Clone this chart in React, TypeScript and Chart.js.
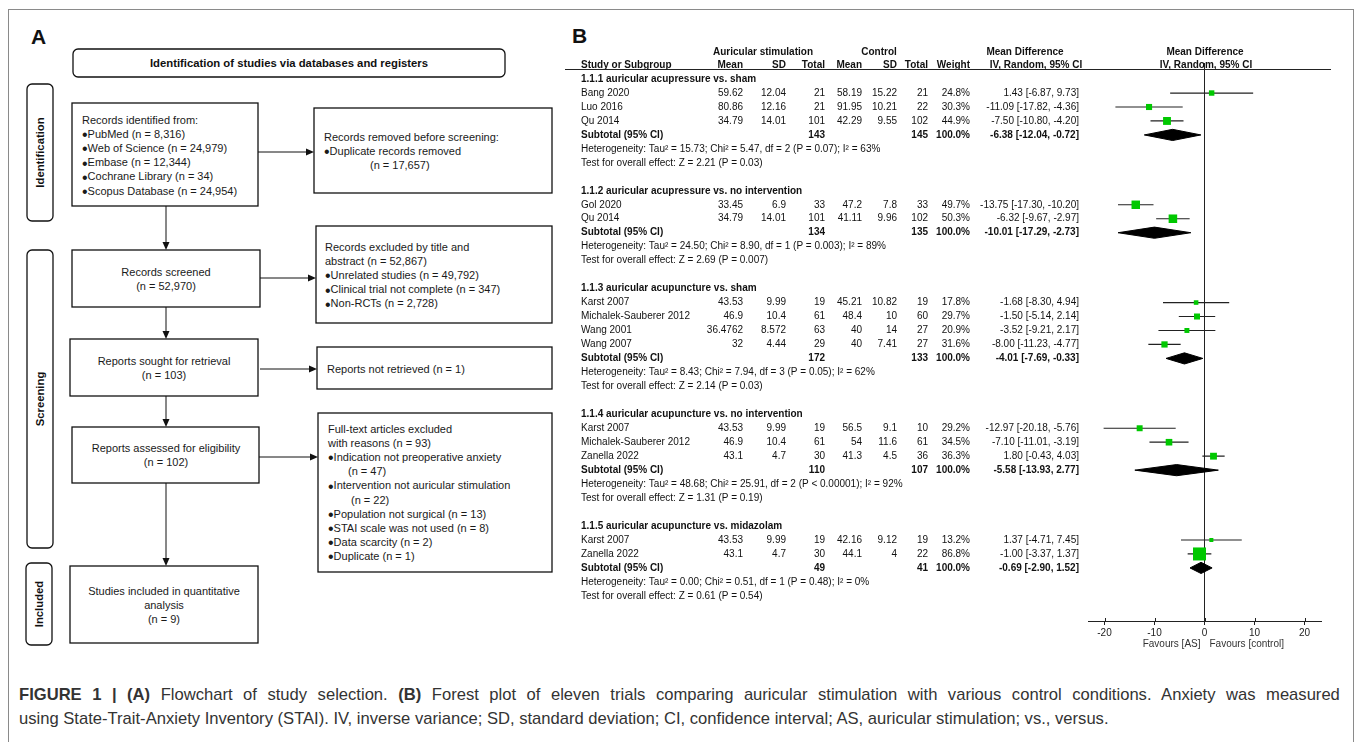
import React, { useEffect, useRef } from "react";
import { Chart, registerables } from "chart.js";

Chart.register(...registerables);

const FONT = '"Liberation Sans", Arial, Helvetica, sans-serif';

// ---------- Forest plot data ----------
const subgroupTitles = [
  "1.1.1 auricular acupressure vs. sham",
  "1.1.2 auricular acupressure vs. no intervention",
  "1.1.3 auricular acupuncture vs. sham",
  "1.1.4 auricular acupuncture vs. no intervention",
  "1.1.5 auricular acupuncture vs. midazolam",
];
const studyNames = [
  "Bang 2020", "Luo 2016", "Qu 2014",
  "Gol 2020", "Qu 2014",
  "Karst 2007", "Michalek-Sauberer 2012", "Wang 2001", "Wang 2007",
  "Karst 2007", "Michalek-Sauberer 2012", "Zanella 2022",
  "Karst 2007", "Zanella 2022",
];
const studyGroup = [0, 0, 0, 1, 1, 2, 2, 2, 2, 3, 3, 3, 4, 4];
const asMean = [59.62, 80.86, 34.79, 33.45, 34.79, 43.53, 46.9, 36.4762, 32, 43.53, 46.9, 43.1, 43.53, 43.1];
const asSD = [12.04, 12.16, 14.01, 6.9, 14.01, 9.99, 10.4, 8.572, 4.44, 9.99, 10.4, 4.7, 9.99, 4.7];
const asTotal = [21, 21, 101, 33, 101, 19, 61, 63, 29, 19, 61, 30, 19, 30];
const ctlMean = [58.19, 91.95, 42.29, 47.2, 41.11, 45.21, 48.4, 40, 40, 56.5, 54, 41.3, 42.16, 44.1];
const ctlSD = [15.22, 10.21, 9.55, 7.8, 9.96, 10.82, 10, 14, 7.41, 9.1, 11.6, 4.5, 9.12, 4];
const ctlTotal = [21, 22, 102, 33, 102, 19, 60, 27, 27, 10, 61, 36, 19, 22];
const weights = [24.8, 30.3, 44.9, 49.7, 50.3, 17.8, 29.7, 20.9, 31.6, 29.2, 34.5, 36.3, 13.2, 86.8];
const meanDiff = [1.43, -11.09, -7.5, -13.75, -6.32, -1.68, -1.5, -3.52, -8.0, -12.97, -7.1, 1.8, 1.37, -1.0];
const ciLow = [-6.87, -17.82, -10.8, -17.3, -9.67, -8.3, -5.14, -9.21, -11.23, -20.18, -11.01, -0.43, -4.71, -3.37];
const ciHigh = [9.73, -4.36, -4.2, -10.2, -2.97, 4.94, 2.14, 2.17, -4.77, -5.76, -3.19, 4.03, 7.45, 1.37];

const subMeanDiff = [-6.38, -10.01, -4.01, -5.58, -0.69];
const subLow = [-12.04, -17.29, -7.69, -13.93, -2.9];
const subHigh = [-0.72, -2.73, -0.33, 2.77, 1.52];
const subAsTotal = [143, 134, 172, 110, 49];
const subCtlTotal = [145, 135, 133, 107, 41];
const heterogeneity = [
  "Heterogeneity: Tau² = 15.73; Chi² = 5.47, df = 2 (P = 0.07); I² = 63%",
  "Heterogeneity: Tau² = 24.50; Chi² = 8.90, df = 1 (P = 0.003); I² = 89%",
  "Heterogeneity: Tau² = 8.43; Chi² = 7.94, df = 3 (P = 0.05); I² = 62%",
  "Heterogeneity: Tau² = 48.68; Chi² = 25.91, df = 2 (P < 0.00001); I² = 92%",
  "Heterogeneity: Tau² = 0.00; Chi² = 0.51, df = 1 (P = 0.48); I² = 0%",
];
const overallEffect = [
  "Test for overall effect: Z = 2.21 (P = 0.03)",
  "Test for overall effect: Z = 2.69 (P = 0.007)",
  "Test for overall effect: Z = 2.14 (P = 0.03)",
  "Test for overall effect: Z = 1.31 (P = 0.19)",
  "Test for overall effect: Z = 0.61 (P = 0.54)",
];
const xTicks = [-20, -10, 0, 10, 20];
const xMin = -23.3;
const xMax = 23.3;

// ---------- Flowchart content ----------
type FLine = { t: string; x?: number };
type FBox = { x: number; y: number; w: number; h: number; center?: boolean; tx: number; ty: number; lines: FLine[] };
const flowBoxes: FBox[] = [
  { x: 72, y: 103, w: 186, h: 103, tx: 82, ty: 120, lines: [
    { t: "Records identified from:" }, { t: "•PubMed (n = 8,316)" }, { t: "•Web of Science (n = 24,979)" },
    { t: "•Embase (n = 12,344)" }, { t: "•Cochrane Library (n = 34)" }, { t: "•Scopus Database (n = 24,954)" } ] },
  { x: 314, y: 108, w: 238, h: 85, tx: 324, ty: 137, lines: [
    { t: "Records removed before screening:" }, { t: "•Duplicate records removed" }, { t: "(n = 17,657)", x: 370 } ] },
  { x: 72, y: 250, w: 188, h: 57, center: true, tx: 166, ty: 272, lines: [ { t: "Records screened" }, { t: "(n = 52,970)" } ] },
  { x: 316, y: 226, w: 236, h: 97, tx: 325, ty: 247, lines: [
    { t: "Records excluded by title and" }, { t: "abstract (n = 52,867)" }, { t: "•Unrelated studies (n = 49,792)" },
    { t: "•Clinical trial not complete (n = 347)" }, { t: "•Non-RCTs (n = 2,728)" } ] },
  { x: 70, y: 339, w: 188, h: 57, center: true, tx: 164, ty: 361, lines: [ { t: "Reports sought for retrieval" }, { t: "(n = 103)" } ] },
  { x: 317, y: 347, w: 235, h: 42, tx: 327, ty: 369, lines: [ { t: "Reports not retrieved (n = 1)" } ] },
  { x: 72, y: 427, w: 187, h: 56, center: true, tx: 166, ty: 448, lines: [ { t: "Reports assessed for eligibility" }, { t: "(n = 102)" } ] },
  { x: 318, y: 413, w: 234, h: 159, tx: 328, ty: 429, lines: [
    { t: "Full-text articles excluded" }, { t: "with reasons (n = 93)" }, { t: "•Indication not preoperative anxiety" },
    { t: "(n = 47)", x: 348 }, { t: "•Intervention not auricular stimulation" }, { t: "(n = 22)", x: 351 },
    { t: "•Population not surgical (n = 13)" }, { t: "•STAI scale was not used (n = 8)" },
    { t: "•Data scarcity (n = 2)" }, { t: "•Duplicate (n = 1)" } ] },
  { x: 70, y: 566, w: 188, h: 77, center: true, tx: 164, ty: 591, lines: [
    { t: "Studies included in quantitative" }, { t: "analysis" }, { t: "(n = 9)" } ] },
];
const sideLabels = [
  { t: "Identification", x: 27, y: 84, w: 26, h: 137 },
  { t: "Screening", x: 27, y: 250, w: 26, h: 298 },
  { t: "Included", x: 26, y: 563, w: 26, h: 82 },
];
const hArrows = [
  { x1: 258, x2: 314, y: 152 },
  { x1: 260, x2: 316, y: 278 },
  { x1: 260, x2: 317, y: 369 },
  { x1: 259, x2: 318, y: 457 },
];
const vArrows = [
  { x: 166, y1: 206, y2: 250 },
  { x: 166, y1: 307, y2: 339 },
  { x: 166, y1: 396, y2: 427 },
  { x: 166, y1: 483, y2: 566 },
];

function buildRows() {
  const titleRow: number[] = [];
  const studyRow: number[] = [];
  const subRow: number[] = [];
  const hetRow: number[] = [];
  const testRow: number[] = [];
  let r = 0;
  subgroupTitles.forEach((_, g) => {
    titleRow.push(r++);
    studyGroup.forEach((sg, i) => {
      if (sg === g) studyRow[i] = r++;
    });
    subRow.push(r++);
    hetRow.push(r++);
    testRow.push(r++);
    r++;
  });
  return { titleRow, studyRow, subRow, hetRow, testRow };
}

function markerRadius(w: number) {
  const half = 1.2 + 5.3 * (w / 86.8);
  return half * Math.SQRT2;
}

export default function App() {
  const ref = useRef<HTMLCanvasElement>(null);

  useEffect(() => {
    const rows = buildRows();
    const ciData: { x: number; y: number }[] = [];
    meanDiff.forEach((_, i) => {
      ciData.push({ x: ciLow[i], y: rows.studyRow[i] });
      ciData.push({ x: ciHigh[i], y: rows.studyRow[i] });
      ciData.push({ x: NaN, y: NaN });
    });
    const dh = 0.4;
    const diamonds = subMeanDiff.map((m, g) => {
      const r = rows.subRow[g];
      return {
        type: "scatter" as const,
        data: [
          { x: subLow[g], y: r },
          { x: m, y: r - dh },
          { x: subHigh[g], y: r },
          { x: m, y: r + dh },
          { x: subLow[g], y: r },
        ],
        showLine: true,
        fill: "shape" as any,
        backgroundColor: "#000",
        borderColor: "#000",
        borderWidth: 1,
        pointRadius: 0,
        order: 2,
      };
    });

    const textPlugin = {
      id: "forestText",
      afterDraw(chart: any) {
        const { ctx } = chart;
        const ys = chart.scales.y;
        const area = chart.chartArea;
        const reg = `10px ${FONT}`;
        const bold = `bold 10px ${FONT}`;
        const put = (s: string, px: number, row: number, align: CanvasTextAlign, font: string, color = "#111") => {
          ctx.font = font;
          ctx.fillStyle = color;
          ctx.textAlign = align;
          ctx.textBaseline = "middle";
          ctx.fillText(s, px, ys.getPixelForValue(row));
        };
        ctx.save();
        const cStudy = 21, cAsMean = 183, cAsSD = 226, cAsTot = 265, cCtlMean = 302, cCtlSD = 337,
          cCtlTot = 368, cW = 410, cMD = 519;
        const h1 = -1.93, h2 = -1.0;
        put("Auricular stimulation", 203, h1, "center", bold);
        put("Control", 319, h1, "center", bold);
        put("Mean Difference", 465, h1, "center", bold);
        put("Mean Difference", 645, h1, "center", bold);
        put("Study or Subgroup", cStudy, h2, "left", bold);
        put("Mean", cAsMean, h2, "right", bold);
        put("SD", cAsSD, h2, "right", bold);
        put("Total", cAsTot, h2, "right", bold);
        put("Mean", cCtlMean, h2, "right", bold);
        put("SD", cCtlSD, h2, "right", bold);
        put("Total", cCtlTot, h2, "right", bold);
        put("Weight", cW, h2, "right", bold);
        put("IV, Random, 95% CI", 476, h2, "center", bold);
        put("IV, Random, 95% CI", 646, h2, "center", bold);
        const ly = Math.round(ys.getPixelForValue(-0.72)) + 0.5;
        ctx.strokeStyle = "#222";
        ctx.lineWidth = 1;
        ctx.beginPath();
        ctx.moveTo(5, ly);
        ctx.lineTo(771, ly);
        ctx.stroke();

        subgroupTitles.forEach((t, g) => {
          put(t, cStudy, rows.titleRow[g], "left", bold);
          put("Subtotal (95% CI)", cStudy, rows.subRow[g], "left", bold);
          put(String(subAsTotal[g]), cAsTot, rows.subRow[g], "right", bold);
          put(String(subCtlTotal[g]), cCtlTot, rows.subRow[g], "right", bold);
          put("100.0%", cW, rows.subRow[g], "right", bold);
          put(`${subMeanDiff[g].toFixed(2)} [${subLow[g].toFixed(2)}, ${subHigh[g].toFixed(2)}]`, cMD, rows.subRow[g], "right", bold);
          put(heterogeneity[g], cStudy, rows.hetRow[g], "left", reg);
          put(overallEffect[g], cStudy, rows.testRow[g], "left", reg);
        });
        studyNames.forEach((n, i) => {
          const r = rows.studyRow[i];
          put(n, cStudy, r, "left", reg);
          put(String(asMean[i]), cAsMean, r, "right", reg);
          put(String(asSD[i]), cAsSD, r, "right", reg);
          put(String(asTotal[i]), cAsTot, r, "right", reg);
          put(String(ctlMean[i]), cCtlMean, r, "right", reg);
          put(String(ctlSD[i]), cCtlSD, r, "right", reg);
          put(String(ctlTotal[i]), cCtlTot, r, "right", reg);
          put(`${weights[i].toFixed(1)}%`, cW, r, "right", reg);
          put(`${meanDiff[i].toFixed(2)} [${ciLow[i].toFixed(2)}, ${ciHigh[i].toFixed(2)}]`, cMD, r, "right", reg);
        });
        const xs = chart.scales.x;
        ctx.strokeStyle = "#222";
        ctx.lineWidth = 1;
        xTicks.forEach((v) => {
          const px = Math.round(xs.getPixelForValue(v)) + 0.5;
          ctx.beginPath();
          ctx.moveTo(px, area.bottom - 3);
          ctx.lineTo(px, area.bottom);
          ctx.stroke();
        });
        const x0 = xs.getPixelForValue(0);
        ctx.font = reg;
        ctx.fillStyle = "#333";
        ctx.textBaseline = "middle";
        ctx.textAlign = "right";
        ctx.fillText("Favours [AS]", x0 - 4, area.bottom + 23);
        ctx.textAlign = "left";
        ctx.fillText("Favours [control]", x0 + 5, area.bottom + 23);
        ctx.restore();
      },
    };

    const chart = new Chart(ref.current as HTMLCanvasElement, {
      type: "scatter",
      data: {
        datasets: [
          {
            data: meanDiff.map((m, i) => ({ x: m, y: rows.studyRow[i] })),
            pointStyle: "rect",
            pointRadius: weights.map((w) => markerRadius(w)),
            backgroundColor: "#00c800",
            borderWidth: 0,
            order: 0,
          },
          {
            data: ciData,
            showLine: true,
            spanGaps: false,
            borderColor: "#222",
            borderWidth: 1.2,
            pointRadius: 0,
            order: 1,
          },
          ...diamonds,
        ] as any,
      },
      options: {
        responsive: false,
        animation: false,
        devicePixelRatio: 1,
        layout: { padding: { left: 528, right: 33, top: 43, bottom: 0 } },
        plugins: { legend: { display: false }, tooltip: { enabled: false } },
        events: [],
        scales: {
          x: {
            type: "linear",
            min: xMin,
            max: xMax,
            afterBuildTicks: (scale: any) => {
              scale.ticks = xTicks.map((v) => ({ value: v }));
            },
            afterFit: (scale: any) => {
              scale.height = 39;
            },
            border: { display: true, color: "#222", width: 1 },
            grid: {
              display: true,
              drawOnChartArea: true,
              drawTicks: true,
              tickLength: 4,
              tickColor: "#222",
              color: (c: any) => (c.tick && c.tick.value === 0 ? "#222" : "rgba(0,0,0,0)"),
              lineWidth: 1,
            },
            ticks: {
              font: { family: FONT, size: 10 },
              color: "#222",
              padding: 2,
              maxRotation: 0,
              callback: (v: any) => String(v),
            },
          },
          y: {
            type: "linear",
            min: -1.15,
            max: 38.8,
            reverse: true,
            display: false,
          },
        },
      } as any,
      plugins: [textPlugin],
    });
    return () => chart.destroy();
  }, []);

  const ff = FONT;
  const arrowHead = (x: number, y: number, dir: "r" | "d") =>
    dir === "r"
      ? `${x},${y} ${x - 8},${y - 3.5} ${x - 8},${y + 3.5}`
      : `${x},${y} ${x - 3.5},${y - 8} ${x + 3.5},${y - 8}`;

  const renderLine = (t: string) =>
    t.startsWith("•") ? (
      <>
        <tspan fontSize={16} dy={2.2}>•</tspan>
        <tspan dy={-2.2}>{t.slice(1)}</tspan>
      </>
    ) : (
      t
    );

  return (
    <div style={{ position: "fixed", left: 0, top: 0, width: 1357, height: 742, overflow: "hidden", background: "#fff" }}>
      <svg width={1357} height={742} style={{ position: "absolute", left: 0, top: 0 }} fontFamily={ff}>
        <rect x={8.5} y={9.5} width={1345} height={800} fill="none" stroke="#8a8a8a" strokeWidth={1} />
        <text x={31} y={44} fontSize={21} fontWeight="bold" fill="#111">A</text>
        <text x={572} y={43} fontSize={21} fontWeight="bold" fill="#111">B</text>
        <rect x={73} y={49} width={432} height={28} rx={5} fill="none" stroke="#111" strokeWidth={1.3} />
        <text x={289} y={63} fontSize={11.3} fontWeight="bold" textAnchor="middle" dominantBaseline="central" fill="#111">
          Identification of studies via databases and registers
        </text>
        {sideLabels.map((s, i) => (
          <g key={"s" + i}>
            <rect x={s.x} y={s.y} width={s.w} height={s.h} rx={5} fill="none" stroke="#111" strokeWidth={1.3} />
            <text
              x={s.x + s.w / 2}
              y={s.y + s.h / 2}
              fontSize={11.3}
              fontWeight="bold"
              textAnchor="middle"
              dominantBaseline="central"
              fill="#111"
              transform={`rotate(-90 ${s.x + s.w / 2} ${s.y + s.h / 2})`}
            >
              {s.t}
            </text>
          </g>
        ))}
        {flowBoxes.map((b, i) => (
          <g key={"b" + i}>
            <rect x={b.x} y={b.y} width={b.w} height={b.h} fill="none" stroke="#111" strokeWidth={1.3} />
            {b.lines.map((l, j) => (
              <text
                key={j}
                x={l.x ?? b.tx}
                y={b.ty + j * 14.1 + 4}
                fontSize={11}
                textAnchor={b.center ? "middle" : "start"}
                fill="#1a1a1a"
              >
                {renderLine(l.t)}
              </text>
            ))}
          </g>
        ))}
        {hArrows.map((a, i) => (
          <g key={"h" + i}>
            <line x1={a.x1} y1={a.y} x2={a.x2 - 6} y2={a.y} stroke="#111" strokeWidth={1} />
            <polygon points={arrowHead(a.x2, a.y, "r")} fill="#111" />
          </g>
        ))}
        {vArrows.map((a, i) => (
          <g key={"v" + i}>
            <line x1={a.x} y1={a.y1} x2={a.x} y2={a.y2 - 6} stroke="#111" strokeWidth={1} />
            <polygon points={arrowHead(a.x, a.y2, "d")} fill="#111" />
          </g>
        ))}
        <text x={19} y={700} fontSize={16.6} fill="#333" wordSpacing={5.9}>
          <tspan fontWeight="bold">FIGURE 1 | (A)</tspan>
          <tspan> Flowchart of study selection. </tspan>
          <tspan fontWeight="bold">(B)</tspan>
          <tspan> Forest plot of eleven trials comparing auricular stimulation with various control conditions. Anxiety was measured</tspan>
        </text>
        <text x={19} y={724} fontSize={16.6} fill="#333">
          using State-Trait-Anxiety Inventory (STAI). IV, inverse variance; SD, standard deviation; CI, confidence interval; AS, auricular stimulation; vs., versus.
        </text>
      </svg>
      <canvas
        ref={ref}
        width={794}
        height={640}
        style={{ position: "absolute", left: 560, top: 20, width: 794, height: 640 }}
      />
    </div>
  );
}
